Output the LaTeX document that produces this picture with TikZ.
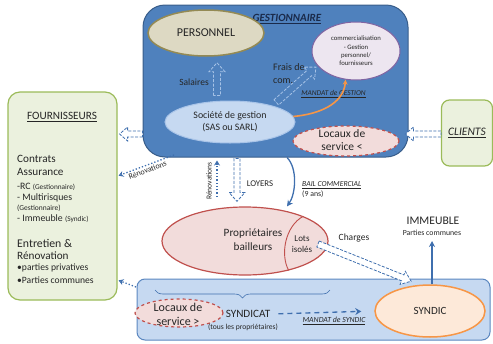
\documentclass[tikz,border=0pt]{standalone}
\usepackage{fontspec}
\setmainfont{Carlito}
\usetikzlibrary{arrows.meta,decorations.pathreplacing,calc,shapes.geometric}
\definecolor{gestfill}{HTML}{4F81BD}
\definecolor{gestdraw}{HTML}{385D8A}
\definecolor{persfill}{HTML}{DDD9C3}
\definecolor{persdraw}{HTML}{948A54}
\definecolor{commfill}{HTML}{EDE6F0}
\definecolor{commdraw}{HTML}{8064A2}
\definecolor{socfill}{HTML}{C6D9F1}
\definecolor{socdraw}{HTML}{A9C4E8}
\definecolor{pinkfill}{HTML}{F2DCDB}
\definecolor{reddraw}{HTML}{C0504D}
\definecolor{greenfill}{HTML}{EBF1DE}
\definecolor{greendraw}{HTML}{9BBB59}
\definecolor{syndfill}{HTML}{C6D9F1}
\definecolor{synddraw}{HTML}{5B87C0}
\definecolor{orfill}{HTML}{FDE9D9}
\definecolor{ordraw}{HTML}{F79646}
\definecolor{ablue}{HTML}{3F6FAE}
\definecolor{lblue}{HTML}{A6C2E6}
\definecolor{txt}{HTML}{262626}
\definecolor{navy}{HTML}{1A2A4A}
\tikzset{
  fs/.style={font=\fontsize{#1}{#1}\selectfont},
  fsi/.style={font=\fontsize{#1}{#1}\selectfont\itshape},
  ell/.style={ellipse, inner sep=0pt},
  hol/.style={draw=ablue, dash pattern=on 3pt off 1.5pt, line width=0.8pt, fill=white},
  holin/.style={hol, draw=lblue, fill=none},
  dotarr/.style={draw=ablue, line width=1.3pt, dotted, -{Stealth[open,length=5pt,width=6pt]}},
}
% hollow block arrow: #2 start, #3 end, #4 shaft half width, #5 head half width, #6 head length
\newcommand\holarr[6][]{\draw[hol,#1] ($(#2)!#4!90:(#3)$) -- ($(#3)!#6!(#2)!#4!-90:(#2)$) -- ($(#3)!#6!(#2)!#5!-90:(#2)$) -- (#3) -- ($(#3)!#6!(#2)!#5!90:(#2)$) -- ($(#3)!#6!(#2)!#4!90:(#2)$) -- ($(#2)!#4!-90:(#3)$) -- cycle;}
\begin{document}
\begin{tikzpicture}[x=1pt,y=-1pt, every node/.style={inner sep=0pt, text=txt}]
\useasboundingbox (0,0) rectangle (493,343);

% GESTIONNAIRE box
\node[draw=gestdraw, fill=gestfill, rounded corners=22pt, line width=1pt, minimum width=265pt, minimum height=152pt] (gest) at (275.5,81) {};
\node[font=\fontsize{11}{11}\selectfont\bfseries\itshape, text=navy] (gestt) at (287,19) {\underline{GESTIONNAIRE}};

\node[ell, draw=persdraw, fill=persfill, line width=1.5pt, minimum width=116pt, minimum height=46pt, fs=12] (pers) at (206,33) {PERSONNEL};
\node[ell, draw=commdraw, fill=commfill, line width=1pt, minimum width=88pt, minimum height=58pt, align=center, font=\fontsize{6.7}{8.3}\selectfont] (comm) at (356,51) {commercialisation\\- Gestion\\personnel/\\fournisseurs};
\node[ell, draw=socdraw, fill=socfill, line width=1pt, minimum width=130pt, minimum height=42pt, align=center, font=\fontsize{9.9}{12}\selectfont] (soc) at (230,122) {Société de gestion\\(SAS ou SARL)};
\node[ell, draw=reddraw, dashed, fill=pinkfill, line width=1.2pt, minimum width=106pt, minimum height=30pt] (loc1) at (346,141) {};
\node[align=center, font=\fontsize{11.5}{13}\selectfont] (loc1t) at (342,140) {Locaux de\\service <};

% arrows inside gestionnaire
\coordinate (salx) at (217,0);
\coordinate (sa) at ($(salx |- soc.north)+(0,-5)$);
\coordinate (sb) at ($(salx |- pers.south)+(0,6)$);
\holarr[holin]{sa}{sb}{3.5pt}{8pt}{9pt}
\node[fs=9.5] (sal) at (194,82) {Salaires};
\coordinate (fa) at ($(soc.21)!5pt!(comm.201)$);
\coordinate (fb) at ($(comm.201)!2pt!(soc.21)$);
\holarr[holin]{fa}{fb}{3.5pt}{8pt}{9pt}
\node[align=left, anchor=west, font=\fontsize{10}{13}\selectfont] (frais) at (273,73.5) {Frais de\\com.};
\node[fsi=7.4] (mg) at (333.5,94) {\underline{MANDAT de GESTION}};
\draw[draw=ordraw, line width=1.6pt, -{Stealth[length=5pt,width=5pt]}] (soc.5) to[out=5, in=-95] (comm.250);

% FOURNISSEURS
\node[draw=greendraw, fill=greenfill, rounded corners=12pt, line width=1.2pt, minimum width=109pt, minimum height=208pt] (fourn) at (62.5,196) {};
\node[fs=11.2] (ft) at (62,117) {\underline{FOURNISSEURS}};
\node[anchor=west, fs=11.2] (f1) at (17,159) {Contrats};
\node[anchor=west, fs=11.2] (f2) at (17,172) {Assurance};
\node[anchor=west, fs=9.8] (f3) at (17,187) {-RC {\fontsize{7.3}{8}\selectfont(Gestionnaire)}};
\node[anchor=west, fs=9.8] (f4) at (17,198) {- Multirisques};
\node[anchor=west, fs=7.5] (f5) at (17,208) {(Gestionnaire)};
\node[anchor=west, fs=9.8] (f6) at (17,219) {- Immeuble {\fontsize{7.3}{8}\selectfont(Syndic)}};
\node[anchor=west, fs=11.8] (f7) at (17,243) {Entretien \&};
\node[anchor=west, fs=11.2] (f8) at (17,256) {Rénovation};
\node[anchor=west, fs=9.6] (f9) at (17,268) {•parties privatives};
\node[anchor=west, fs=9.6] (f10) at (17,280) {•Parties communes};

% CLIENTS
\node[draw=greendraw, fill=greenfill, rounded corners=8pt, line width=1.2pt, minimum width=51pt, minimum height=66pt, fsi=11.5] (cli) at (467,133) {\underline{CLIENTS}};

% arrows left/right of gestionnaire
\coordinate (r1) at (0,134);
\coordinate (ga) at (gest.west |- r1);
\coordinate (gb) at ($(fourn.east |- r1)+(2,0)$);
\holarr{ga}{gb}{3pt}{7pt}{8pt}
\coordinate (ca) at (cli.west |- r1);
\coordinate (cb) at ($(gest.east |- r1)+(-3,0)$);
\holarr{ca}{cb}{3pt}{7pt}{8pt}
\coordinate (ren1) at (174,155);
\draw[dotarr, shorten >=1pt] (ren1) -- node[sloped, below=1.5pt, fs=8] (renl) {Rénovations} (fourn.east |- 0,176);

% SYNDICAT box
\node[draw=synddraw, fill=syndfill, rounded corners=8pt, line width=1pt, minimum width=353pt, minimum height=61pt] (synb) at (313.5,309.5) {};
\draw[draw=ablue, line width=0.6pt, decorate, decoration={brace, amplitude=8pt, mirror}] (155,290) -- (330,290);
\node[ell, draw=reddraw, dashed, fill=pinkfill, line width=1.2pt, minimum width=88pt, minimum height=28pt] (loc2) at (179,313) {};
\node[align=center, font=\fontsize{12}{14}\selectfont] (loc2t) at (178,314) {Locaux de\\service >};
\node[fs=11.2] (sdt) at (248,314) {SYNDICAT};
\node[fs=7.6] (tous) at (243,327) {(tous les propriétaires)};
\node[ell, draw=ordraw, fill=orfill, line width=1.5pt, minimum width=110pt, minimum height=52pt, fs=11] (syndic) at (430,311) {SYNDIC};
\draw[draw=ablue, line width=1.3pt, dash pattern=on 5pt off 4pt, -{Stealth[length=6pt,width=7pt]}, shorten <=8pt, shorten >=13pt] (sdt.east) -- (syndic.west);
\node[fsi=7.8] (ms) at (334,321) {\underline{MANDAT de SYNDIC}};
\coordinate (sy1) at (136,287);
\draw[dotarr, shorten >=1pt] (sy1) -- (fourn.east |- 0,280);

% Proprietaires
\node[ell, draw=reddraw, fill=pinkfill, line width=1.2pt, minimum width=166pt, minimum height=68pt] (prop) at (245,241) {};
\draw[draw=reddraw, line width=0.9pt] (prop.23) .. controls (285,226) and (280,255) .. (prop.-34);
\node[align=center, font=\fontsize{11.2}{14}\selectfont] (propt) at (253,240) {Propriétaires\\bailleurs};
\node[align=center, font=\fontsize{9}{11}\selectfont] (lots) at (302,244) {Lots\\isolés};

% between gestionnaire and proprietaires
\coordinate (renv) at (217,197);
\draw[dotarr, shorten >=3pt] (renv) -- (renv |- gest.south);
\node[rotate=90, fs=7.6] (renvl) at (209,181) {Rénovations};
\coordinate (loyx) at (237,0);
\coordinate (la) at ($(loyx |- gest.south)+(0,1)$);
\coordinate (lb) at ($(loyx |- prop.north)+(0,-5)$);
\holarr{la}{lb}{3pt}{8pt}{9pt}
\node[fs=8.8] (loy) at (260,184) {LOYERS};
\coordinate (bx) at (287,0);
\draw[draw=ablue, line width=1.3pt, -{Stealth[length=6pt,width=6pt]}] (bx |- gest.south) to[out=-45, in=55, looseness=0.8] (bx |- prop.north);
\node[anchor=west, fsi=7.7] (bail) at (302,185) {\underline{BAIL COMMERCIAL}};
\node[anchor=west, fs=7.8] (nans) at (302,194) {(9 ans)};

% Charges and immeuble
\coordinate (ch1) at (318,244);
\coordinate (ch2) at ($(syndic.120)+(-4,-4)$);
\holarr{ch1}{ch2}{3.2pt}{7pt}{9pt}
\node[fs=9.5] (chg) at (354,238) {Charges};
\node[fs=11.6] (imm) at (433,221) {IMMEUBLE};
\node[fs=7.8] (pc) at (432,233) {Parties communes};
\draw[draw=ablue, line width=1.3pt, -{Stealth[length=6pt,width=6pt]}] (syndic.north -| 432,0) -- (432,241);
\end{tikzpicture}
\end{document}
